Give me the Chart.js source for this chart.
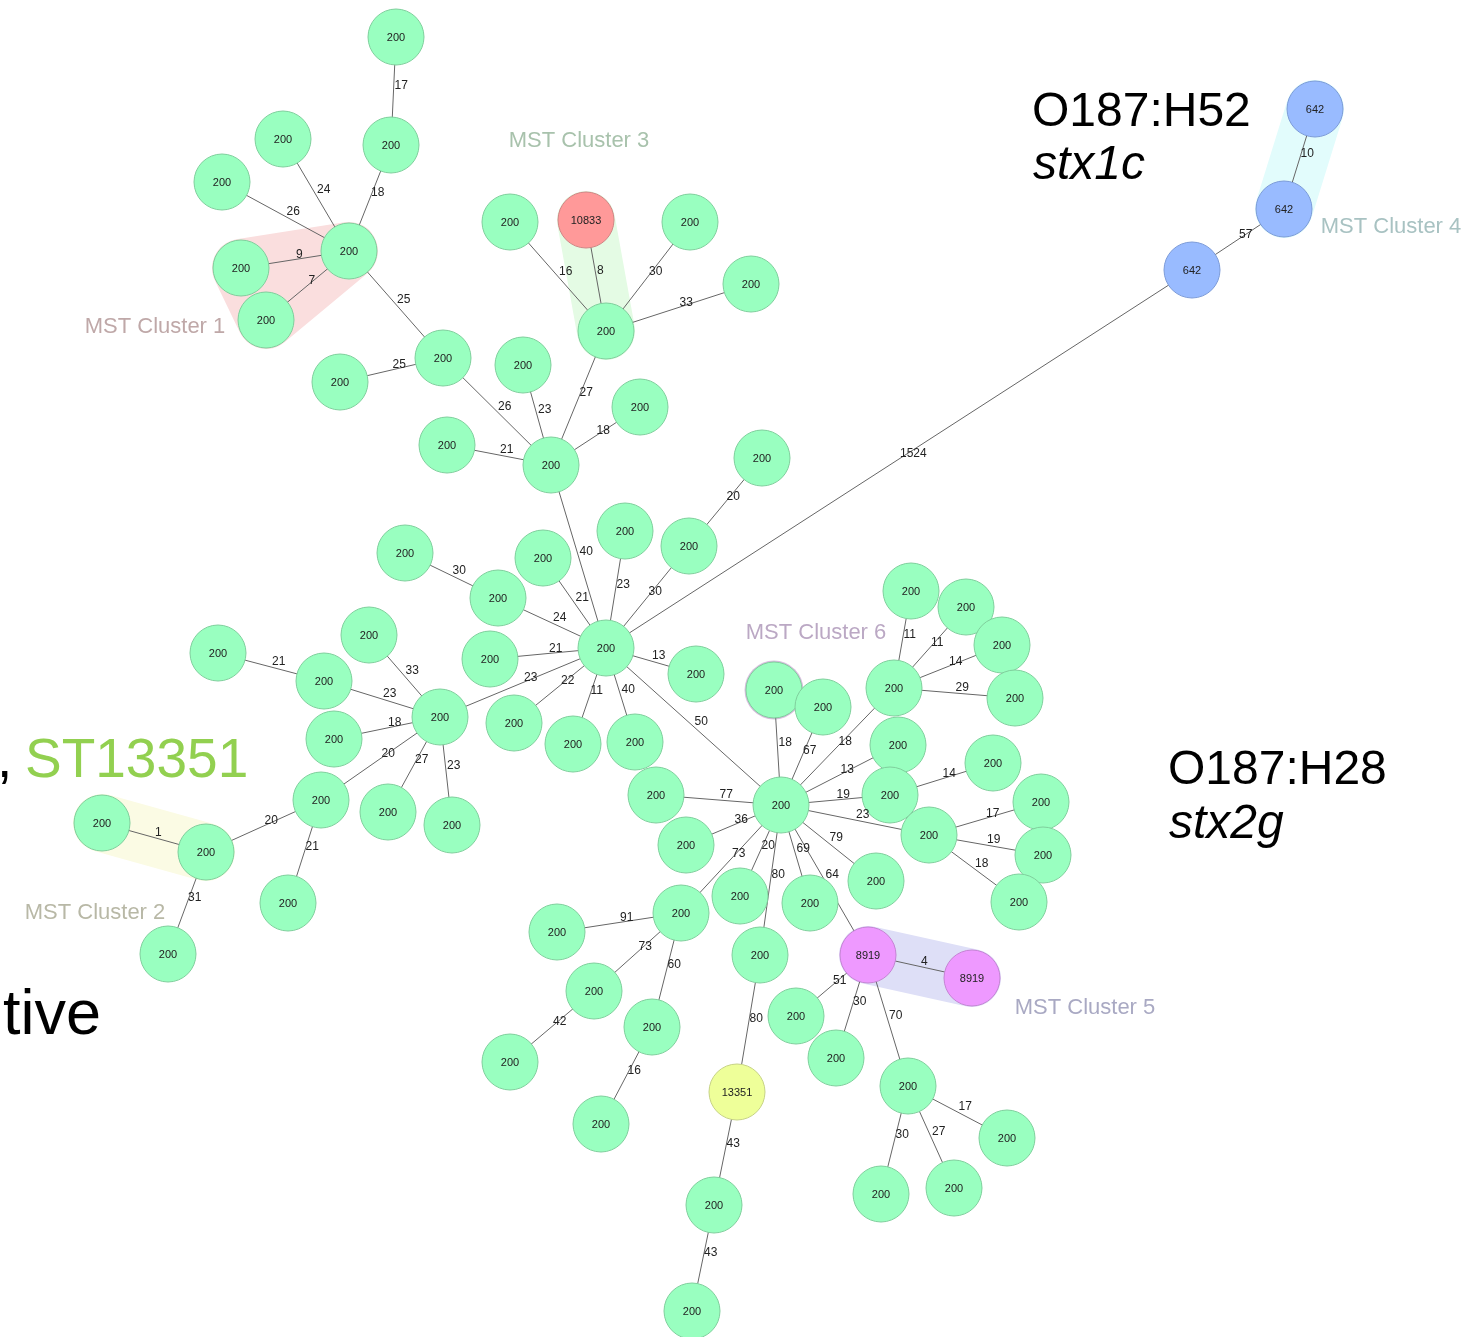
<!DOCTYPE html>
<html>
<head>
<meta charset="utf-8">
<title>MST</title>
<script src="https://cdn.jsdelivr.net/npm/chart.js@4.4.1/dist/chart.umd.min.js"></script>
<style>
  body { margin: 0; background: #fff; }
  canvas { display: block; }
</style>
</head>
<body>
<canvas id="mstChart" width="1466" height="1337"></canvas>
<script>
// node layout (x, y) and sequence type of each node
const nodeX = [396, 391, 283, 222, 349, 241, 266, 443, 340, 523, 447, 551, 640, 606, 510, 586, 690, 751,
    606, 762, 689, 625, 543, 405, 498, 490, 440, 514, 573, 635, 696, 1192, 1284, 1315, 781,
    369, 218, 324, 334, 321, 388, 452, 206, 102, 168, 288,
    774, 823, 894, 911, 966, 1002, 1015, 898, 890, 993, 929, 1041, 1043, 1019,
    656, 686, 876, 810, 868, 972, 740, 681, 760, 557, 594, 510, 652, 601, 737, 714, 692,
    796, 836, 908, 1007, 881, 954];
const nodeY = [37, 145, 139, 182, 251, 268, 320, 358, 382, 365, 445, 465, 407, 331, 222, 220, 222, 284,
    648, 458, 546, 531, 558, 553, 598, 659, 717, 723, 744, 742, 674, 270, 209, 109, 805,
    635, 653, 681, 739, 800, 812, 825, 852, 823, 954, 903,
    690, 707, 688, 591, 607, 645, 698, 745, 795, 763, 835, 802, 855, 902,
    795, 845, 881, 903, 955, 978, 896, 913, 955, 932, 991, 1062, 1027, 1124, 1092, 1205, 1311,
    1016, 1058, 1086, 1138, 1194, 1188];
const nodeST = nodeX.map(() => "200");
nodeST[15] = "10833";
nodeST[31] = "642"; nodeST[32] = "642"; nodeST[33] = "642";
nodeST[64] = "8919"; nodeST[65] = "8919";
nodeST[74] = "13351";

// tree edges and allele distances
const edgeFrom = [0, 1, 2, 3, 4, 4, 4, 7, 7, 9, 10, 11, 11, 13, 13, 13, 13, 11, 19, 18, 18, 18, 23, 24, 18, 18, 18, 18, 18, 18, 18, 31, 32, 18,
    35, 36, 37, 38, 39, 40, 41, 42, 43, 44, 45,
    46, 47, 48, 49, 50, 51, 52, 53, 54, 55, 56, 57, 58, 59,
    60, 61, 62, 63, 64, 64, 66, 67, 68, 69, 70, 71, 72, 73, 74, 75, 76, 77, 78, 79, 80, 81, 82];
const edgeTo = [1, 4, 4, 4, 5, 6, 7, 8, 11, 11, 11, 12, 13, 14, 15, 16, 17, 18, 20, 20, 21, 22, 24, 18, 25, 26, 27, 28, 29, 30, 31, 32, 33, 34,
    26, 37, 26, 26, 26, 26, 26, 39, 42, 42, 39,
    34, 34, 34, 48, 48, 48, 48, 34, 34, 54, 34, 56, 56, 56,
    34, 34, 34, 34, 34, 65, 34, 34, 34, 67, 67, 70, 67, 72, 68, 74, 75, 64, 64, 64, 79, 79, 79];
const edgeWeight = [17, 18, 24, 26, 9, 7, 25, 25, 26, 23, 21, 18, 27, 16, 8, 30, 33, 40, 20, 30, 23, 21, 30, 24, 21, 23, 22, 11, 40, 13, 1524, 57, 10, 50,
    33, 21, 23, 18, 20, 27, 23, 20, 1, 31, 21,
    18, 67, 18, 11, 11, 14, 29, 13, 19, 14, 23, 17, 19, 18,
    77, 36, 79, 69, 64, 4, 20, 73, 80, 91, 73, 42, 60, 16, 80, 43, 43, 51, 30, 70, 17, 30, 27];

// MST clusters: members, shading and caption
const clusterMembers = [[4, 5, 6], [43, 42], [15, 13], [33, 32], [64, 65], [46]];
const clusterNames = ["MST Cluster 1", "MST Cluster 2", "MST Cluster 3", "MST Cluster 4", "MST Cluster 5", "MST Cluster 6"];
const clusterNameX = [155, 95, 579, 1391, 1085, 816];
const clusterNameY = [327, 913, 141, 227, 1008, 633];

const stFill = { "200": "#99ffc0", "10833": "#ff9999", "642": "#99bbff", "8919": "#ee99ff", "13351": "#eeff99" };
const stBorder = { "200": "#7fcf9c", "10833": "#d08585", "642": "#7c9bd8", "8919": "#c583d4", "13351": "#c6d285" };
const hullColors = ["#fadede", "#fbfbe4", "#e4fbe4", "#e2fcfc", "#dedff7", "#d9bedf"];
const hullText = ["#bfa8a8", "#b8b8a6", "#a8c2ac", "#a8c2c2", "#a9a9c3", "#bba8c4"];

const FONT = "'Liberation Sans', Arial, Helvetica, sans-serif";
const R = 28;

// one line dataset per edge
const edgeSets = edgeFrom.map((a, i) => ({
    type: "line",
    data: [{ x: nodeX[a], y: nodeY[a] }, { x: nodeX[edgeTo[i]], y: nodeY[edgeTo[i]] }],
    borderColor: "#666666",
    borderWidth: 1,
    pointRadius: 0,
    fill: false,
    order: 2
}));

const nodeSet = {
    type: "scatter",
    data: nodeX.map((x, i) => ({ x: x, y: nodeY[i] })),
    pointRadius: R,
    pointBackgroundColor: nodeST.map(s => stFill[s]),
    pointBorderColor: nodeST.map(s => stBorder[s]),
    pointBorderWidth: 1,
    order: 1
};

const hullPlugin = {
    id: "hulls",
    beforeDatasetsDraw(chart) {
        const ctx = chart.ctx;
        const xs = chart.scales.x, ys = chart.scales.y;
        clusterMembers.forEach((m, c) => {
            ctx.save();
            ctx.fillStyle = hullColors[c];
            ctx.strokeStyle = hullColors[c];
            ctx.lineJoin = "round";
            ctx.lineCap = "round";
            ctx.beginPath();
            if (m.length === 1) {
                ctx.arc(xs.getPixelForValue(nodeX[m[0]]), ys.getPixelForValue(nodeY[m[0]]), R + 1.5, 0, Math.PI * 2);
                ctx.fill();
            } else {
                m.forEach((n, k) => {
                    const px = xs.getPixelForValue(nodeX[n]), py = ys.getPixelForValue(nodeY[n]);
                    if (k === 0) ctx.moveTo(px, py); else ctx.lineTo(px, py);
                });
                ctx.closePath();
                ctx.lineWidth = 2 * (R + 1);
                ctx.fill();
                ctx.stroke();
            }
            ctx.restore();
        });
    }
};

const labelPlugin = {
    id: "labels",
    afterDatasetsDraw(chart) {
        const ctx = chart.ctx;
        const xs = chart.scales.x, ys = chart.scales.y;
        ctx.save();
        // distances next to the edge midpoints
        ctx.fillStyle = "#222";
        ctx.font = "12px " + FONT;
        ctx.textAlign = "left";
        ctx.textBaseline = "bottom";
        edgeFrom.forEach((a, i) => {
            const b = edgeTo[i];
            const mx = xs.getPixelForValue((nodeX[a] + nodeX[b]) / 2);
            const my = ys.getPixelForValue((nodeY[a] + nodeY[b]) / 2);
            ctx.fillText(String(edgeWeight[i]), mx + 1, my + 1);
        });
        // ST inside each node
        const meta = chart.getDatasetMeta(chart.data.datasets.length - 1);
        ctx.font = "11px " + FONT;
        ctx.textAlign = "center";
        ctx.textBaseline = "middle";
        meta.data.forEach((pt, i) => {
            ctx.fillText(nodeST[i], pt.x, pt.y + 1);
        });
        // cluster captions
        ctx.font = "22px " + FONT;
        clusterNames.forEach((t, c) => {
            ctx.fillStyle = hullText[c];
            ctx.fillText(t, xs.getPixelForValue(clusterNameX[c]), ys.getPixelForValue(clusterNameY[c]));
        });
        // serotype notes
        ctx.textAlign = "left";
        ctx.textBaseline = "alphabetic";
        ctx.fillStyle = "#000";
        ctx.font = "48px " + FONT;
        ctx.fillText("O187:H52", 1032, 126);
        ctx.fillText("O187:H28", 1168, 784);
        ctx.font = "italic 48px " + FONT;
        ctx.fillText("stx1c", 1033, 179);
        ctx.fillText("stx2g", 1169, 838);
        ctx.font = "55px " + FONT;
        ctx.fillText(",", -3, 777);
        ctx.fillStyle = "#92d050";
        ctx.fillText("ST13351", 25, 777);
        ctx.fillStyle = "#000";
        ctx.font = "63px " + FONT;
        ctx.fillText("tive", 3, 1034);
        ctx.restore();
    }
};

new Chart("mstChart", {
    type: "scatter",
    data: { datasets: edgeSets.concat([nodeSet]) },
    options: {
        responsive: false,
        animation: false,
        layout: { padding: 0, autoPadding: false },
        plugins: { legend: { display: false }, tooltip: { enabled: false } },
        scales: {
            x: { type: "linear", min: 0, max: 1466, display: false },
            y: { type: "linear", min: 0, max: 1337, reverse: true, display: false }
        }
    },
    plugins: [hullPlugin, labelPlugin]
});
</script>
</body>
</html>
